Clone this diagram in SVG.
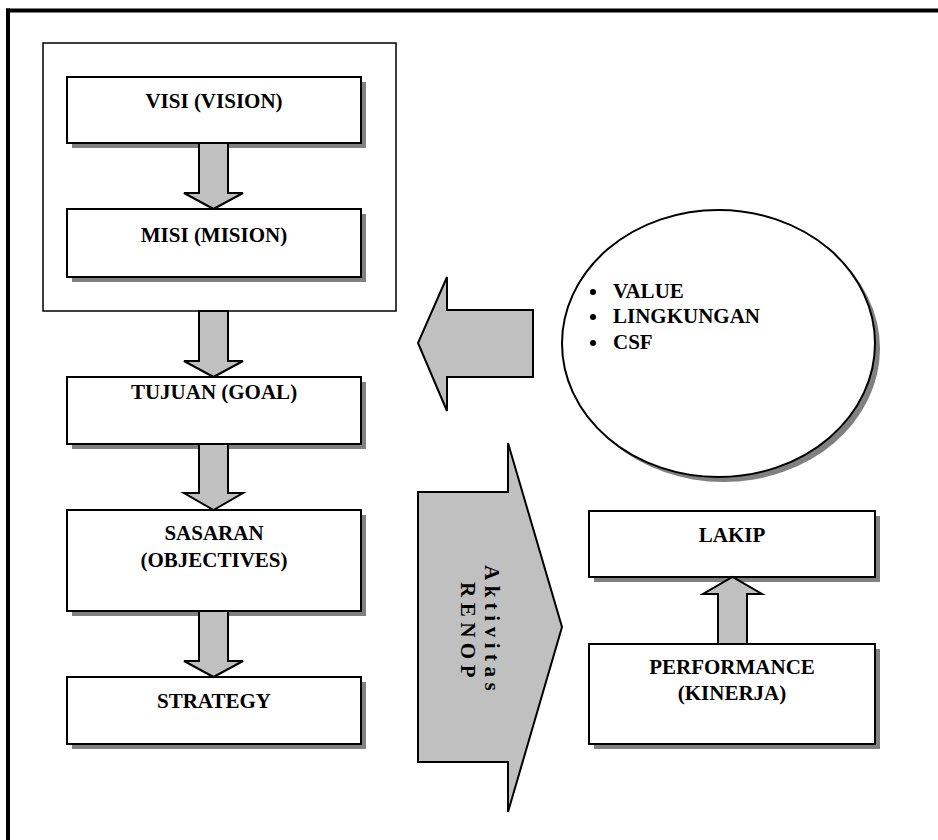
<svg xmlns="http://www.w3.org/2000/svg" width="938" height="840" viewBox="0 0 938 840">
<style>
.box{fill:#fff;stroke:#000;stroke-width:2}
.sh{fill:#808080}
.arr{fill:#c0c0c0;stroke:#000;stroke-width:2;stroke-linejoin:miter}
.t{font-family:"Liberation Serif","Times New Roman",serif;font-weight:bold;font-size:21px;fill:#000}
.c{text-anchor:middle}
</style>
<rect width="938" height="840" fill="#fff"/>
<g id="frame">
<line x1="6" y1="10.5" x2="938" y2="10.5" stroke="#000" stroke-width="4"/>
<line x1="8" y1="8.5" x2="8" y2="840" stroke="#000" stroke-width="4"/>
</g>
<g id="container">
<rect x="43" y="43" width="353" height="268" fill="none" stroke="#000" stroke-width="1.5"/>
</g>
<g id="visi">
<rect class="sh" x="72" y="82" width="294" height="66"/>
<rect class="box" x="67" y="77" width="294" height="66"/>
<text class="t c" x="214" y="108">VISI (VISION)</text>
</g>
<g id="misi">
<rect class="sh" x="72" y="214" width="294" height="68"/>
<rect class="box" x="67" y="209" width="294" height="68"/>
<text class="t c" x="214" y="242">MISI (MISION)</text>
</g>
<g id="tujuan">
<rect class="sh" x="72" y="382" width="294" height="67"/>
<rect class="box" x="67" y="377" width="294" height="67"/>
<text class="t c" x="214" y="399">TUJUAN (GOAL)</text>
</g>
<g id="sasaran">
<rect class="sh" x="72" y="515" width="294" height="101"/>
<rect class="box" x="67" y="510" width="294" height="101"/>
<text class="t c" x="214" y="540">SASARAN</text>
<text class="t c" x="214" y="567">(OBJECTIVES)</text>
</g>
<g id="strategy">
<rect class="sh" x="72" y="682" width="294" height="67"/>
<rect class="box" x="67" y="677" width="294" height="67"/>
<text class="t c" x="214" y="708">STRATEGY</text>
</g>
<g id="lakip">
<rect class="sh" x="594" y="516" width="286" height="66"/>
<rect class="box" x="589" y="511" width="286" height="66"/>
<text class="t c" x="732" y="542">LAKIP</text>
</g>
<g id="performance">
<rect class="sh" x="594" y="649" width="286" height="100"/>
<rect class="box" x="589" y="644" width="286" height="100"/>
<text class="t c" x="732" y="674">PERFORMANCE</text>
<text class="t c" x="732" y="700">(KINERJA)</text>
</g>
<g id="factors">
<ellipse class="sh" cx="723.5" cy="348.5" rx="156.5" ry="133.5"/>
<ellipse cx="718.5" cy="343.5" rx="156.5" ry="133.5" fill="#fff" stroke="#000" stroke-width="2"/>
<circle cx="593" cy="292" r="3"/>
<circle cx="593" cy="317" r="3"/>
<circle cx="593" cy="343" r="3"/>
<text class="t" x="613" y="298">VALUE</text>
<text class="t" x="613" y="323">LINGKUNGAN</text>
<text class="t" x="613" y="349">CSF</text>
</g>
<g id="renop">
<polygon class="arr" points="418,492 508,492 508,443 562,627 508,812 508,762 418,762"/>
<text class="t" style="letter-spacing:5.5px" transform="translate(485,565) rotate(90)">Aktivitas</text>
<text class="t" style="letter-spacing:5.5px" transform="translate(461,582) rotate(90)">RENOP</text>
</g>
<g id="connectors">
<polygon class="arr" points="199,143 228,143 228,193 243,193 213.5,209 184,193 199,193"/>
<polygon class="arr" points="199,311 228,311 228,361 243,361 213.5,377 184,361 199,361"/>
<polygon class="arr" points="199,444 228,444 228,493 243,493 213.5,510 184,493 199,493"/>
<polygon class="arr" points="199,611 228,611 228,661 243,661 213.5,677 184,661 199,661"/>
<polygon class="arr" points="718,644 747,644 747,594 762,594 732.5,577 703,594 718,594"/>
<polygon class="arr" points="533,310 533,377 447,377 447,411 418,343 447,277 447,310"/>
</g>
</svg>
